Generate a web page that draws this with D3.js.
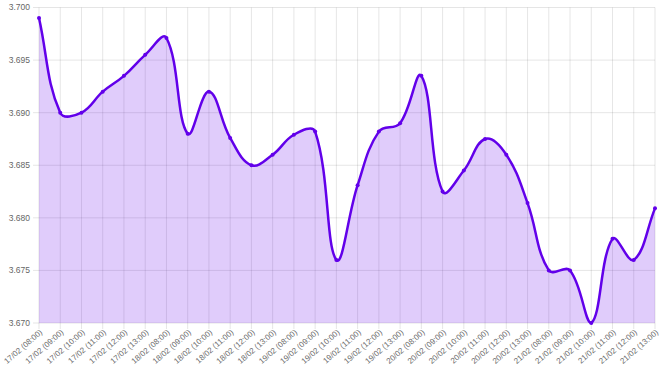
<!DOCTYPE html>
<html>
<head>
<meta charset="utf-8">
<script src="https://cdn.jsdelivr.net/npm/d3@7"></script>
<style>
  body { margin: 0; background: #fff; }
  svg { display: block; font-family: "Liberation Sans", Arial, sans-serif; }
</style>
</head>
<body>
<svg id="chart" width="661" height="376"></svg>
<script>
// labels along the x axis
const labels = [
  "17/02 (08:00)", "17/02 (09:00)", "17/02 (10:00)", "17/02 (11:00)", "17/02 (12:00)", "17/02 (13:00)",
  "18/02 (08:00)", "18/02 (09:00)", "18/02 (10:00)", "18/02 (11:00)", "18/02 (12:00)", "18/02 (13:00)",
  "19/02 (08:00)", "19/02 (09:00)", "19/02 (10:00)", "19/02 (11:00)", "19/02 (12:00)", "19/02 (13:00)",
  "20/02 (08:00)", "20/02 (09:00)", "20/02 (10:00)", "20/02 (11:00)", "20/02 (12:00)", "20/02 (13:00)",
  "21/02 (08:00)", "21/02 (09:00)", "21/02 (10:00)", "21/02 (11:00)", "21/02 (12:00)", "21/02 (13:00)"
];
// values
const values = [
  3.6990, 3.6900, 3.6900, 3.6920, 3.6935, 3.6955,
  3.6971, 3.6880, 3.6920, 3.6876, 3.6850, 3.6860,
  3.6879, 3.6882, 3.6760, 3.6831, 3.6882, 3.6890,
  3.6935, 3.6825, 3.6845, 3.6875, 3.6860, 3.6814,
  3.6750, 3.6750, 3.6700, 3.6780, 3.6760, 3.6809
];
const yTicks = [3.670, 3.675, 3.680, 3.685, 3.690, 3.695, 3.700];

const margin = {top: 7.5, right: 6, bottom: 53, left: 39};
const W = 661, H = 376;
const svg = d3.select("#chart");

const x = d3.scalePoint()
    .domain(labels)
    .range([margin.left, W - margin.right]);
const y = d3.scaleLinear()
    .domain([3.670, 3.700])
    .range([H - margin.bottom, margin.top]);

const lineColor = "#6200ea";
const gridColor = "rgba(0,0,0,0.1)";

// grid
svg.append("g")
    .selectAll("line")
    .data(yTicks)
    .join("line")
    .attr("x1", margin.left - 6).attr("x2", W - margin.right)
    .attr("y1", d => y(d)).attr("y2", d => y(d))
    .attr("stroke", gridColor);
svg.append("g")
    .selectAll("line")
    .data(labels)
    .join("line")
    .attr("x1", d => x(d)).attr("x2", d => x(d))
    .attr("y1", margin.top).attr("y2", H - margin.bottom + 6)
    .attr("stroke", gridColor);

// y labels
svg.append("g")
    .selectAll("text")
    .data(yTicks)
    .join("text")
    .attr("x", margin.left - 9)
    .attr("y", d => y(d))
    .attr("dy", "0.35em")
    .attr("text-anchor", "end")
    .attr("font-size", 8.5)
    .attr("fill", "#666")
    .text(d => d.toFixed(3));

// x labels
svg.append("g")
    .selectAll("text")
    .data(labels)
    .join("text")
    .attr("transform", d => `translate(${x(d) + 2},${H - margin.bottom + 8}) rotate(-41)`)
    .attr("dy", "0.35em")
    .attr("text-anchor", "end")
    .attr("font-size", 8)
    .attr("fill", "#666")
    .text(d => d);

// chart.js style spline
const pts = labels.map((l, i) => ({x: x(l), y: y(values[i])}));
const ctrl = pts.map((p, i) => {
  const prev = pts[i - 1] || p, next = pts[i + 1] || p;
  const d01 = Math.hypot(p.x - prev.x, p.y - prev.y);
  const d12 = Math.hypot(next.x - p.x, next.y - p.y);
  let s01 = d01 / (d01 + d12), s12 = d12 / (d01 + d12);
  if (isNaN(s01)) s01 = 0;
  if (isNaN(s12)) s12 = 0;
  const t = 0.4, fa = t * s01, fb = t * s12;
  const clampY = v => Math.max(margin.top, Math.min(H - margin.bottom, v));
  return {
    px: p.x - fa * (next.x - prev.x), py: clampY(p.y - fa * (next.y - prev.y)),
    nx: p.x + fb * (next.x - prev.x), ny: clampY(p.y + fb * (next.y - prev.y))
  };
});
function spline(path) {
  path.moveTo(pts[0].x, pts[0].y);
  for (let i = 1; i < pts.length; i++) {
    path.bezierCurveTo(ctrl[i - 1].nx, ctrl[i - 1].ny, ctrl[i].px, ctrl[i].py, pts[i].x, pts[i].y);
  }
  return path;
}
const linePath = spline(d3.path()).toString();
const areaPath = spline(d3.path());
areaPath.lineTo(pts[pts.length - 1].x, y(3.670));
areaPath.lineTo(pts[0].x, y(3.670));
areaPath.closePath();

svg.append("path")
    .attr("d", areaPath.toString())
    .attr("fill", lineColor)
    .attr("fill-opacity", 0.2);
svg.append("path")
    .attr("d", linePath)
    .attr("fill", "none")
    .attr("stroke", lineColor)
    .attr("stroke-width", 2.5);

svg.append("g")
    .selectAll("circle")
    .data(pts)
    .join("circle")
    .attr("cx", d => d.x)
    .attr("cy", d => d.y)
    .attr("r", 2)
    .attr("fill", lineColor);
</script>
</body>
</html>
